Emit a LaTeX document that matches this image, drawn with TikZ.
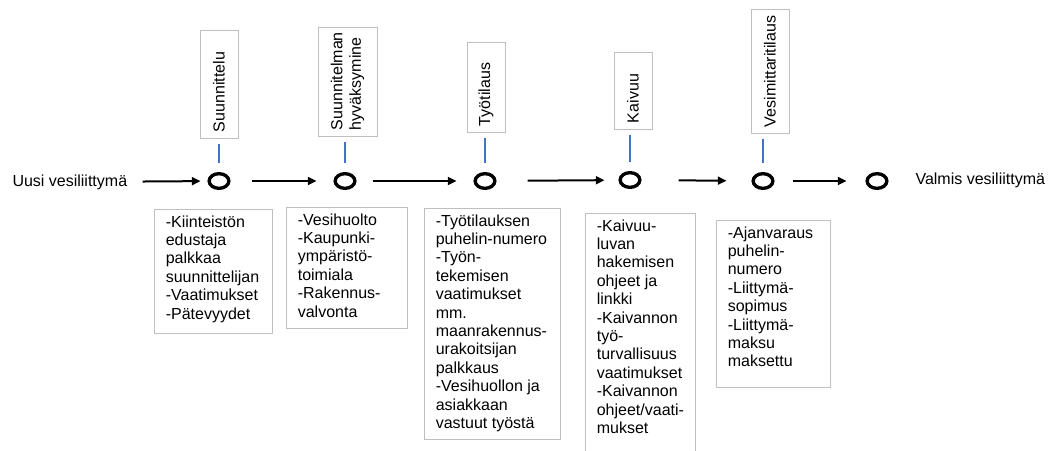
\documentclass[tikz,border=0pt]{standalone}
\usepackage{fontspec}
\setmainfont{Liberation Sans}
\usetikzlibrary{arrows.meta,shapes.geometric}

\tikzset{every picture/.style={line width=0.75pt}}
\tikzset{
  every node/.style={font=\fontsize{12}{13.8}\selectfont},
  stage/.style={draw, ellipse, line width=2.5pt, minimum width=14.8pt, minimum height=11pt, inner sep=0pt},
  phase/.style={draw={rgb, 255:red, 191; green, 191; blue, 191}, rotate=90, align=left, inner xsep=4.5pt, inner ysep=0pt},
  note/.style={draw={rgb, 255:red, 191; green, 191; blue, 191}, anchor=north west, inner xsep=8.5pt, inner ysep=4.5pt},
  flow/.style={line width=1.5pt, -{Triangle[length=6.5pt,width=6pt]}},
  tick/.style={color={rgb, 255:red, 68; green, 114; blue, 196}, line width=0.8pt}
}

\begin{document}
\begin{tikzpicture}[x=0.75pt,y=0.75pt,yscale=-1,xscale=1]
\useasboundingbox (0,0) rectangle (1052,450);

% Text Node
\node [anchor=west, inner sep=0pt] (start) at (12,182) {Uusi vesiliittymä};
% Text Node
\node [anchor=west, inner sep=0pt] (finish) at (915,180) {Valmis vesiliittymä};

%Shape: Ellipse
\node [stage] (c1) at (219,181) {};
\node [stage] (c2) at (345,181) {};
\node [stage] (c3) at (485,181) {};
\node [stage] (c4) at (630,180) {};
\node [stage] (c5) at (763,181) {};
\node [stage] (c6) at (877,181) {};

%Straight Lines
\draw [flow, shorten <=11.25pt, shorten >=5.25pt] (start) -- (c1);
\draw [flow, shorten <=16pt, shorten >=12.75pt] (c1) -- (c2);
\draw [flow, shorten <=12pt, shorten >=12.75pt] (c2) -- (c3);
\draw [flow, shorten <=23.25pt, shorten >=10.5pt] (c3) -- (c4);
\draw [flow, shorten <=27.75pt, shorten >=18.75pt] (c4) -- (c5);
\draw [flow, shorten <=13.5pt, shorten >=14.25pt] (c5) -- (c6);

%Shape: Rectangle
\node [phase, text width=72pt, minimum height=28.5pt] (t1) at (219,84) {Suunnittelu};
\node [phase, text width=72.75pt, minimum height=44.25pt] (t2) at (347.5,81.5) {Suunnitelman\\hyväksymine};
\node [phase, text width=58.5pt, minimum height=28.5pt] (t3) at (486,87) {Työtilaus};
\node [phase, text width=48.75pt, minimum height=28.5pt] (t4) at (633,90.5) {Kaivuu};
\node [phase, text width=84pt, minimum height=28.5pt] (t5) at (770,71) {Vesimittaritilaus};

%Straight Lines
\draw [tick, shorten <=3.75pt, shorten >=6.75pt] (c1 |- t1.west) -- (c1);
\draw [tick, shorten <=3.75pt, shorten >=6.75pt] (c2 |- t2.west) -- (c2);
\draw [tick, shorten <=3.75pt, shorten >=6.75pt] (c3 |- t3.west) -- (c3);
\draw [tick, shorten <=3.75pt, shorten >=6.75pt] (c4 |- t4.west) -- (c4);
\draw [tick, shorten <=3.75pt, shorten >=6.75pt] (c5 |- t5.west) -- (c5);

% Text Node
\node [note] (n1) at (154,209) {\parbox[c][84pt][t]{71.5pt}{\raggedright\exhyphenpenalty=10000
-Kiinteistön\\edustaja\\palkkaa\\suunnittelijan\\-Vaatimukset\\-Pätevyydet}};
% Text Node
\node [note] (n2) at (286,207) {\parbox[c][81.75pt][t]{73.75pt}{\raggedright\exhyphenpenalty=10000
-Vesihuolto\\-Kaupunki-\\ympäristö-\\toimiala\\-Rakennus-\\valvonta}};
% Text Node
\node [note] (n3) at (424,208) {\parbox[c][164.25pt][t]{85pt}{\raggedright\exhyphenpenalty=10000
-Työtilauksen\\puhelin-numero\\-Työn-\\tekemisen\\vaatimukset\\mm.\\maanrakennus-\\urakoitsijan\\palkkaus\\-Vesihuollon ja\\asiakkaan\\vastuut työstä}};
% Text Node
\node [note] (n4) at (585,213) {\parbox[c][172.5pt][t]{65.5pt}{\raggedright\exhyphenpenalty=10000
-Kaivuu-\\luvan\\hakemisen\\ohjeet ja\\linkki\\-Kaivannon\\työ-\\turvallisuus\\vaatimukset\\-Kaivannon\\ohjeet/vaati-\\mukset}};
% Text Node
\node [note] (n5) at (716,220) {\parbox[c][116.25pt][t]{68.5pt}{\raggedright\exhyphenpenalty=10000
-Ajanvaraus\\puhelin-\\numero\\-Liittymä-\\sopimus\\-Liittymä-\\maksu\\maksettu}};

\end{tikzpicture}
\end{document}
